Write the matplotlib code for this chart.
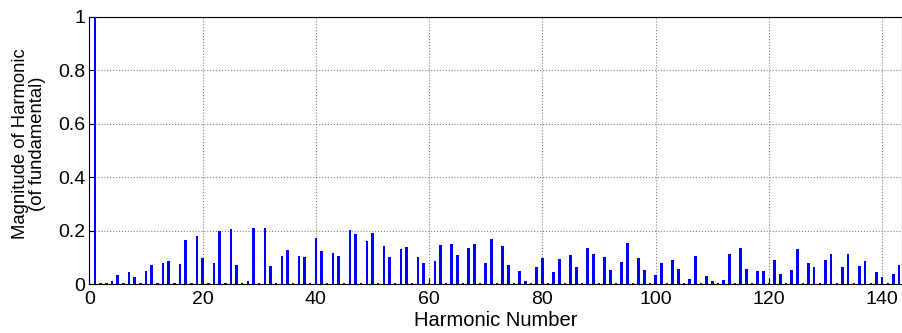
import numpy as np
import matplotlib
matplotlib.use("Agg")
import matplotlib.pyplot as plt

plt.rcParams['font.family'] = ['Liberation Sans', 'DejaVu Sans']

# harmonic magnitudes (per unit of fundamental), harmonics 1..143
tiny = 0.003
magnitude = [
    1.0, 0.005, tiny, 0.0125, 0.0325, tiny, 0.045, 0.025, tiny, 0.05,        # 1-10
    0.071, tiny, 0.08, 0.0875, tiny, 0.074, 0.165, tiny, 0.18, 0.0975,       # 11-20
    tiny, 0.0775, 0.199, tiny, 0.206, 0.071, tiny, 0.01, 0.209, tiny,        # 21-30
    0.209, 0.0675, tiny, 0.105, 0.129, tiny, 0.105, 0.1025, tiny, 0.1725,    # 31-40
    0.125, tiny, 0.116, 0.105, tiny, 0.2025, 0.1875, tiny, 0.1625, 0.1925,   # 41-50
    tiny, 0.141, 0.1025, tiny, 0.131, 0.139, tiny, 0.1025, 0.079, tiny,      # 51-60
    0.085, 0.146, tiny, 0.15, 0.11, tiny, 0.134, 0.15, tiny, 0.079,          # 61-70
    0.17, tiny, 0.1425, 0.07, tiny, 0.05, 0.01, tiny, 0.064, 0.0975,         # 71-80
    tiny, 0.046, 0.095, tiny, 0.1075, 0.064, tiny, 0.134, 0.1125, tiny,      # 81-90
    0.1, 0.054, tiny, 0.084, 0.1525, tiny, 0.0975, 0.0525, tiny, 0.035,      # 91-100
    0.08, tiny, 0.09, 0.056, tiny, 0.02, 0.104, tiny, 0.03, 0.01,            # 101-110
    tiny, 0.015, 0.111, tiny, 0.134, 0.056, tiny, 0.05, 0.05, tiny,          # 111-120
    0.09, 0.0375, tiny, 0.051, 0.131, tiny, 0.08, 0.064, tiny, 0.09,         # 121-130
    0.1125, tiny, 0.064, 0.1125, tiny, 0.069, 0.085, tiny, 0.045, 0.026,     # 131-140
    tiny, 0.0375, 0.071,                                                     # 141-143
]
harmonic = np.arange(1, len(magnitude) + 1)

xticks = [0, 20, 40, 60, 80, 100, 120, 140]
yticks = [0, 0.2, 0.4, 0.6, 0.8, 1]
ytick_labels = ["0", "0.2", "0.4", "0.6", "0.8", "1"]

fig = plt.figure(figsize=(9.03, 3.33), dpi=100)
ax = fig.add_axes([0.0989, 0.147, 0.9, 0.803])

ax.bar(harmonic, magnitude, width=0.45, color=(0, 0, 1), zorder=3)

ax.set_xlim(0, 143.5)
ax.set_ylim(0, 1)
ax.set_xticks(xticks)
ax.set_yticks(yticks)
ax.set_yticklabels(ytick_labels)
ax.tick_params(direction='in', length=4, labelsize=14)
ax.tick_params(axis='x', pad=5)
ax.tick_params(axis='y', pad=3)
ax.grid(True, linestyle=':', color='#808080', linewidth=0.8, zorder=0)
for s in ax.spines.values():
    s.set_linewidth(0.8)

ax.set_xlabel("Harmonic Number", fontsize=14.5, labelpad=2)
ax.set_ylabel("Magnitude of Harmonic\n(of fundamental)", fontsize=13.3,
              linespacing=1.0)
ax.yaxis.set_label_coords(-0.053, 0.524)

fig.savefig("out.png", dpi=100)
